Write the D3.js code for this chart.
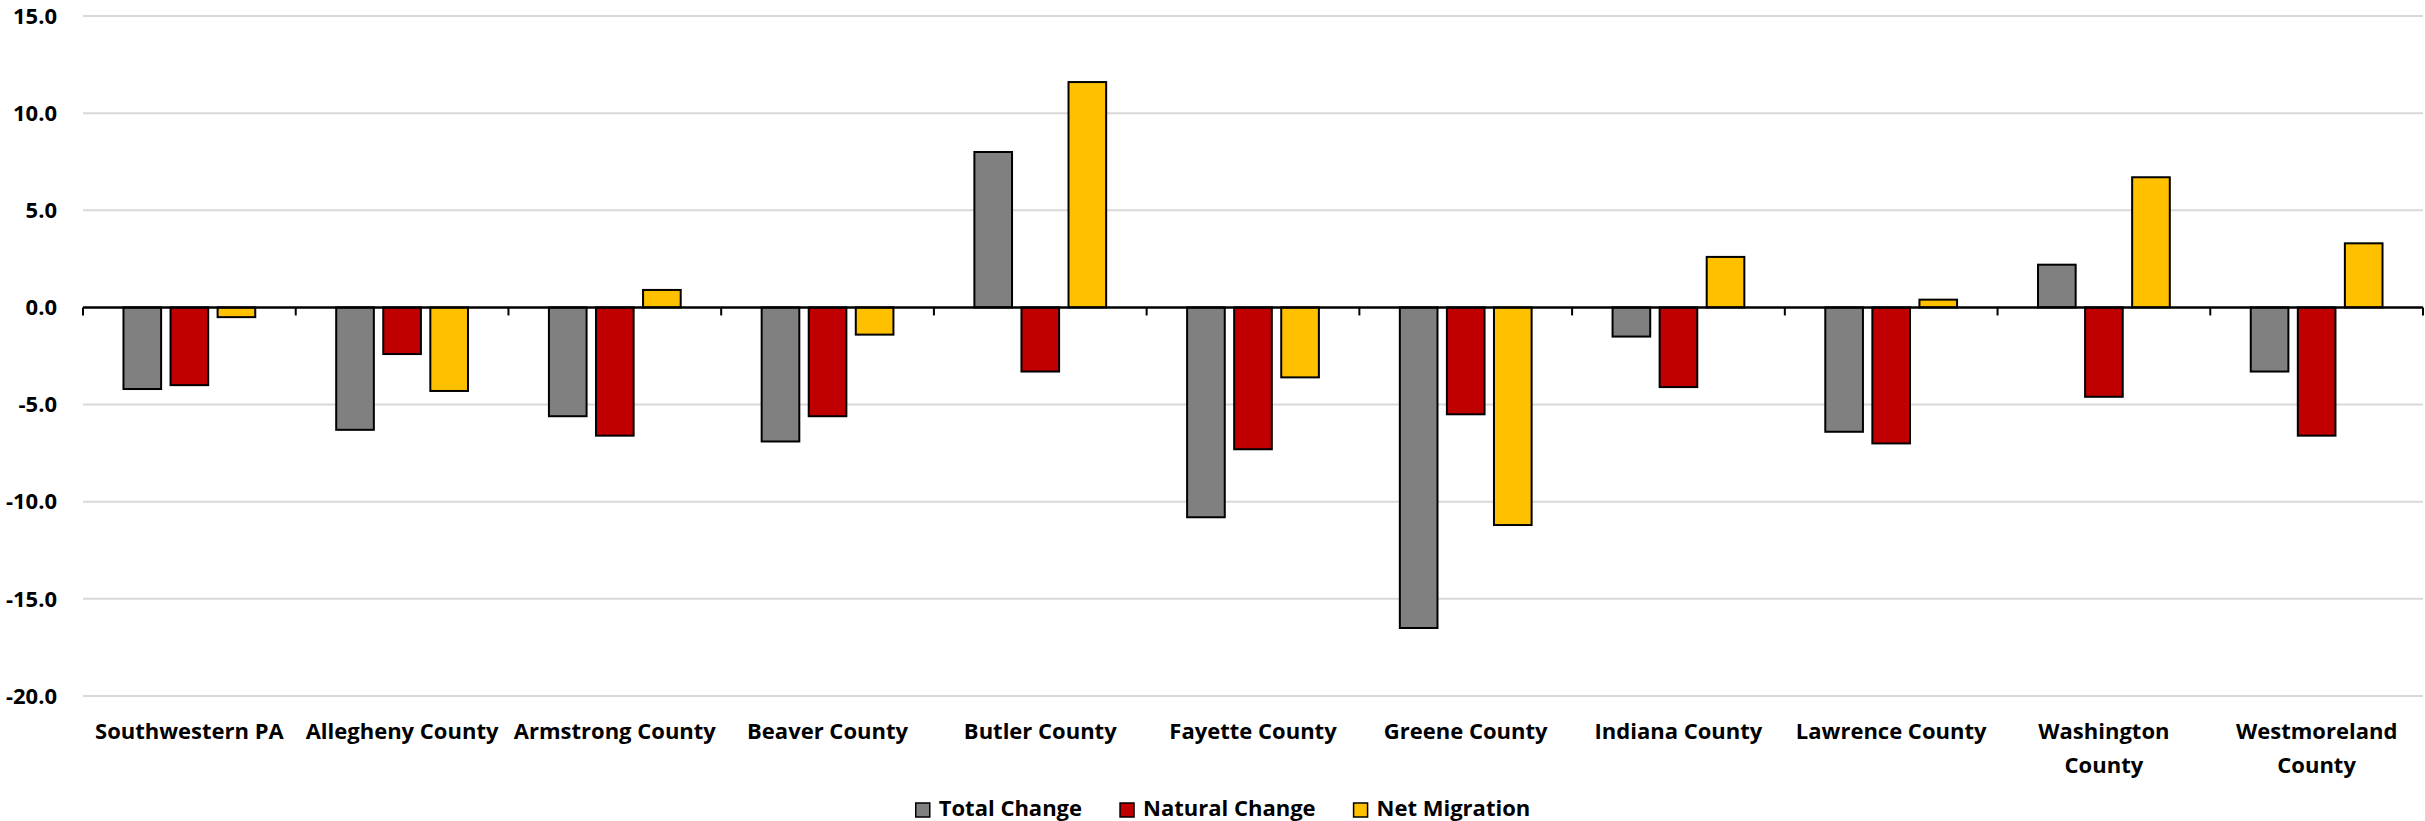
<!DOCTYPE html>
<html>
<head>
<meta charset="utf-8">
<script src="https://cdn.jsdelivr.net/npm/d3@7"></script>
<style>
  html, body { margin: 0; padding: 0; background: #fff; }
  svg { display: block; font-family: "Open Sans", "DejaVu Sans", sans-serif; font-weight: 700; }
</style>
</head>
<body>
<svg id="chart" width="2425" height="821"></svg>
<script>
// Population change components by area
const categories = [
  "Southwestern PA", "Allegheny County", "Armstrong County", "Beaver County",
  "Butler County", "Fayette County", "Greene County", "Indiana County",
  "Lawrence County", "Washington County", "Westmoreland County"
];
const totalChange   = [-4.2, -6.3, -5.6, -6.9,  8.0, -10.8, -16.5, -1.5, -6.4,  2.2, -3.3];
const naturalChange = [-4.0, -2.4, -6.6, -5.6, -3.3,  -7.3,  -5.5, -4.1, -7.0, -4.6, -6.6];
const netMigration  = [-0.5, -4.3,  0.9, -1.4, 11.6,  -3.6, -11.2,  2.6,  0.4,  6.7,  3.3];

const seriesNames  = ["Total Change", "Natural Change", "Net Migration"];
const seriesValues = [totalChange, naturalChange, netMigration];
const seriesColors = ["#808080", "#C00000", "#FFC000"];

const yTickValues = [15, 10, 5, 0, -5, -10, -15, -20];

const W = 2425, H = 821;
const plot = { left: 83, right: 2423, top: 16, bottom: 696 };

const svg = d3.select("#chart");

const y = d3.scaleLinear().domain([-20, 15]).range([plot.bottom, plot.top]);
const x0 = d3.scaleBand().domain(categories).range([plot.left, plot.right]).padding(0);

// Clustered bars: gap width 215%, overlap -25%
const gapWidth = 2.15, overlap = -0.25;
const nS = seriesNames.length;
const barW = x0.bandwidth() / (nS + (nS - 1) * (-overlap) + gapWidth);
const barStep = barW * (1 - overlap);
const groupOffset = barW * gapWidth / 2;

const fmt = v => d3.format(".1f")(v).replace("\u2212", "-");

// Gridlines
svg.append("g")
  .selectAll("line")
  .data(yTickValues.filter(v => v !== 0))
  .join("line")
  .attr("x1", plot.left).attr("x2", plot.right)
  .attr("y1", d => y(d)).attr("y2", d => y(d))
  .attr("stroke", "#d9d9d9").attr("stroke-width", 2);

// Y tick labels
svg.append("g")
  .selectAll("text")
  .data(yTickValues)
  .join("text")
  .attr("x", 57)
  .attr("y", d => y(d))
  .attr("dy", "0.35em")
  .attr("text-anchor", "end")
  .attr("font-size", 22)
  .attr("fill", "#000")
  .text(fmt);

// Bars
const bars = [];
categories.forEach((c, i) => {
  seriesValues.forEach((vals, s) => {
    bars.push({ cat: c, s, v: vals[i] });
  });
});

svg.append("g")
  .selectAll("rect")
  .data(bars)
  .join("rect")
  .attr("x", d => x0(d.cat) + groupOffset + d.s * barStep)
  .attr("width", barW)
  .attr("y", d => y(Math.max(0, d.v)))
  .attr("height", d => Math.abs(y(d.v) - y(0)))
  .attr("fill", d => seriesColors[d.s])
  .attr("stroke", "#000")
  .attr("stroke-width", 2);

// Category axis on the zero line
const axisG = svg.append("g");
axisG.append("line")
  .attr("x1", plot.left).attr("x2", plot.right)
  .attr("y1", y(0)).attr("y2", y(0))
  .attr("stroke", "#000").attr("stroke-width", 2.5);

const boundaries = categories.map(c => x0(c)).concat([x0(categories[categories.length - 1]) + x0.bandwidth()]);
axisG.selectAll("line.tick")
  .data(boundaries)
  .join("line")
  .attr("class", "tick")
  .attr("x1", d => d).attr("x2", d => d)
  .attr("y1", y(0)).attr("y2", y(0) + 8)
  .attr("stroke", "#000").attr("stroke-width", 2);

// Category labels, wrapped when wider than the band
const labelG = svg.append("g");
categories.forEach(c => {
  const cx = x0(c) + x0.bandwidth() / 2;
  const t = labelG.append("text")
    .attr("x", cx).attr("y", 739)
    .attr("text-anchor", "middle")
    .attr("font-size", 22)
    .attr("fill", "#000")
    .text(c);
  if (t.node().getComputedTextLength() > x0.bandwidth() - 4) {
    const words = c.split(" ");
    const last = words.pop();
    t.text(null);
    t.append("tspan").attr("x", cx).attr("y", 739).text(words.join(" "));
    t.append("tspan").attr("x", cx).attr("y", 773).text(last);
  }
});

// Legend
const legend = svg.append("g");
const items = seriesNames.map((name, i) => {
  const g = legend.append("g");
  g.append("rect")
    .attr("x", 0).attr("y", 803)
    .attr("width", 14).attr("height", 14)
    .attr("fill", seriesColors[i])
    .attr("stroke", "#000").attr("stroke-width", 1.5);
  const t = g.append("text")
    .attr("x", 23).attr("y", 816)
    .attr("font-size", 22)
    .attr("fill", "#000")
    .text(name);
  return { g, w: 23 + t.node().getComputedTextLength() };
});
const itemGap = 38;
const totalW = d3.sum(items, d => d.w) + itemGap * (items.length - 1);
let lx = 1223 - totalW / 2;
items.forEach(it => {
  it.g.attr("transform", `translate(${lx},0)`);
  lx += it.w + itemGap;
});
</script>
</body>
</html>
